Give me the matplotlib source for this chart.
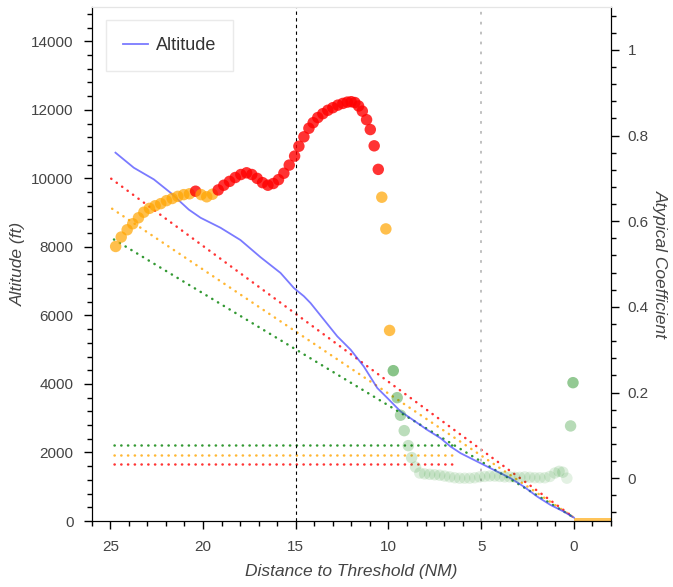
import matplotlib
matplotlib.use("Agg")
import matplotlib.pyplot as plt
from matplotlib.ticker import MultipleLocator
import numpy as np

plt.rcParams['font.family'] = ['Liberation Sans', 'DejaVu Sans']

# ---- data ----
alt_dist = [24.72, 23.73, 22.65, 21.75, 20.77, 20.13, 19.06, 17.98, 16.90, 15.82,
            15.10, 14.56, 14.20, 13.48, 12.76, 12.04, 11.33, 10.97, 10.60, 10.06,
            9.35, 8.81, 7.91, 7.19, 6.65, 6.11, 5.39, 4.67, 4.13, 3.41,
            2.70, 1.97, 1.26, 0.54, 0.09, 0.0]
alt_ft = [10750, 10310, 9970, 9580, 9090, 8850, 8560, 8200, 7700, 7240,
          6800, 6560, 6360, 5875, 5390, 5000, 4510, 4200, 3880, 3590,
          3200, 3000, 2660, 2417, 2172, 1979, 1783, 1587, 1441, 1248,
          1003, 710, 468, 272, 126, 100]

coef_dist = [24.71, 24.41, 24.09, 23.79, 23.48, 23.19, 22.89, 22.58, 22.28, 21.97,
             21.66, 21.36, 21.04, 20.73, 20.40, 20.10, 19.80, 19.49, 19.18, 18.88,
             18.57, 18.26, 17.96, 17.65, 17.37, 17.08, 16.79, 16.50, 16.21, 15.93,
             15.64, 15.35, 15.06, 14.83, 14.56, 14.29, 14.06, 13.81, 13.54, 13.27,
             13.00, 12.73, 12.46, 12.22, 12.01, 11.81, 11.61, 11.41, 11.18, 10.98,
             10.77, 10.55, 10.36, 10.14, 9.94, 9.74, 9.53, 9.35, 9.15, 8.93,
             8.75, 8.54, 8.31, 8.05, 7.78, 7.51, 7.24, 6.97, 6.70, 6.43,
             6.16, 5.89, 5.62, 5.35, 5.08, 4.81, 4.54, 4.27, 4.00, 3.73,
             3.46, 3.19, 2.92, 2.65, 2.38, 2.11, 1.84, 1.57, 1.30, 1.03,
             0.80, 0.60, 0.38, 0.18, 0.05]
coef_val = [0.541, 0.563, 0.580, 0.594, 0.608, 0.621, 0.630, 0.636, 0.641, 0.648,
            0.653, 0.658, 0.662, 0.664, 0.670, 0.662, 0.657, 0.663, 0.673, 0.684,
            0.693, 0.702, 0.709, 0.713, 0.709, 0.700, 0.690, 0.684, 0.688, 0.697,
            0.712, 0.731, 0.752, 0.775, 0.797, 0.817, 0.830, 0.842, 0.851, 0.859,
            0.865, 0.871, 0.875, 0.878, 0.879, 0.877, 0.869, 0.857, 0.837, 0.814,
            0.776, 0.721, 0.656, 0.582, 0.345, 0.251, 0.188, 0.147, 0.111, 0.076,
            0.048, 0.026, 0.012, 0.010, 0.009, 0.008, 0.007, 0.005, 0.003, 0.001,
            0.000, 0.000, 0.000, 0.001, 0.003, 0.004, 0.005, 0.005, 0.004, 0.003,
            0.003, 0.002, 0.002, 0.003, 0.002, 0.001, 0.001, 0.001, 0.004, 0.012,
            0.016, 0.014, 0.000, 0.122, 0.223]

# glide path reference lines (start distance, start altitude, end distance, end altitude)
glide_colors = ['red', 'orange', 'green']
glide_start_dist = [24.95, 24.9, 24.8]
glide_start_alt = [9990, 9114, 8216]
glide_end_dist = [0.0, 0.0, 0.0]
glide_end_alt = [100, 100, 100]
# horizontal level lines
level_alt = [1660, 1940, 2220]
level_start = 24.8
level_end = 6.56

runway_dist = [0.0, -2.0]
runway_alt = [100, 100]

marker_lines = [15, 5]

# ---- figure ----
fig = plt.figure(figsize=(6.73, 5.87), dpi=100)
ax = fig.add_axes([0.1363, 0.1124, 0.7716, 0.8756])
ax2 = ax.twinx()

ax.set_xlim(26, -2)
ax.set_ylim(0, 15000)
ax2.set_ylim(-0.1, 1.1)

dot_style = (0, (0.1, 2.6))
# glide lines
for c, x0, y0, x1, y1 in zip(glide_colors, glide_start_dist, glide_start_alt,
                              glide_end_dist, glide_end_alt):
    ax.plot([x0, x1], [y0, y1], color=c, lw=1.8, linestyle=dot_style,
            dash_capstyle='round', alpha=0.8)
for c, y in zip(glide_colors, level_alt):
    ax.plot([level_start, level_end], [y, y], color=c, lw=1.8,
            linestyle=dot_style, dash_capstyle='round', alpha=0.8)

# runway
ax.fill_between(runway_dist, 0, runway_alt, color='orange', alpha=0.65, lw=0)

# vertical markers
ax.axvline(marker_lines[0], color='black', lw=0.8, linestyle=(0, (3, 3)))
ax.axvline(marker_lines[1], color='#bbbbbb', lw=1.3, linestyle=(0, (1.5, 4)))

# altitude line
ax.plot(alt_dist, alt_ft, color='#3333ff', lw=1.3, alpha=0.65, label='Altitude')

# atypical coefficient scatter
cv = np.array(coef_val)
cd = np.array(coef_dist)
rgba = []
for v in cv:
    if v > 2 / 3:
        rgba.append((1.0, 0.0, 0.0, 0.8))
    elif v > 1 / 3:
        rgba.append((1.0, 0.647, 0.0, 0.7))
    else:
        rgba.append((0.0, 0.5, 0.0, min(0.11 + v * 1.4, 0.6)))
ax2.scatter(cd, cv, s=68, c=rgba, edgecolors='none', zorder=3)

# ticks and axes styling
tick_col = '#444444'
for a in (ax, ax2):
    a.tick_params(which='major', direction='out', length=6, width=1.0,
                  colors='black', labelcolor=tick_col, labelsize=11)
    a.tick_params(which='minor', direction='out', length=3.5, width=1.0,
                  colors='black')
ax.tick_params(axis='x', pad=8)
ax.tick_params(axis='y', pad=7)
ax2.tick_params(axis='y', pad=6)

ax.xaxis.set_major_locator(MultipleLocator(5))
ax.xaxis.set_minor_locator(MultipleLocator(1))
ax.yaxis.set_major_locator(MultipleLocator(2000))
ax.yaxis.set_minor_locator(MultipleLocator(400))
ax2.yaxis.set_major_locator(MultipleLocator(0.2))
ax2.yaxis.set_minor_locator(MultipleLocator(0.04))
ax2.yaxis.set_major_formatter(plt.FuncFormatter(lambda v, p: f"{v:g}" if abs(v) > 1e-9 else "0"))

for a in (ax, ax2):
    a.spines['top'].set_color('#e5e5e5')
    a.spines['left'].set_color('black')
    a.spines['right'].set_color('black')
    a.spines['bottom'].set_color('black')

ax.set_xlabel('Distance to Threshold (NM)', fontsize=12.5, style='italic',
              color=tick_col, labelpad=7)
ax.set_ylabel('Altitude (ft)', fontsize=12.5, style='italic', color=tick_col,
              labelpad=4)
ax2.set_ylabel('Atypical Coefficient', fontsize=12.5, style='italic',
               color=tick_col, rotation=-90, labelpad=14)

leg = ax.legend(loc='upper left', bbox_to_anchor=(0.0275, 0.975), fontsize=13,
                frameon=True, fancybox=False, borderpad=0.95, borderaxespad=0,
                handlelength=1.35, handletextpad=0.45,
                labelcolor='#333333')
leg.get_frame().set_edgecolor('#e5e5e5')
leg.get_frame().set_linewidth(1.0)

fig.savefig('out.png', dpi=100)
